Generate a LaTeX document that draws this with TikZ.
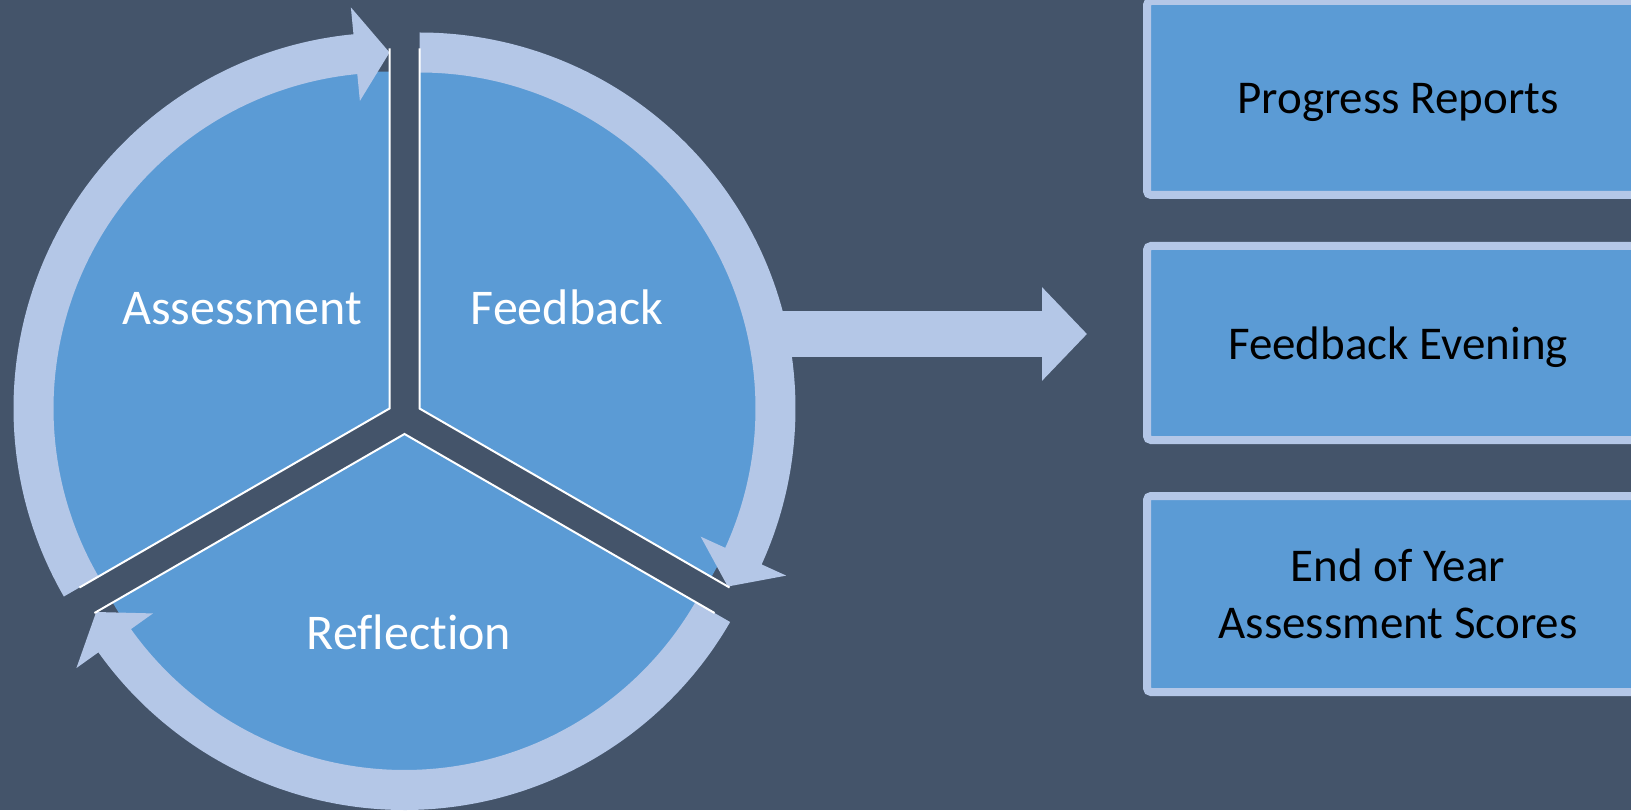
\documentclass[tikz,border=0pt]{standalone}
\usepackage{fontspec}
\setmainfont{Carlito}[Ligatures=NoCommon]
\usetikzlibrary{arrows.meta,calc}
\definecolor{bgslate}{HTML}{44546A}
\definecolor{segblue}{HTML}{5B9BD5}
\definecolor{ringblue}{HTML}{B4C7E7}

\begin{document}
\begin{tikzpicture}[x=0.5pt, y=0.5pt,
  segment/.style={fill=segblue},
  ringarrow/.style={fill=ringblue},
  edgeline/.style={draw=white, line width=1pt},
  cyclelabel/.style={text=white, anchor=base, font=\fontsize{25}{30}\selectfont},
  outbox/.style={draw=ringblue, line width=4pt, fill=segblue, rounded corners=2pt,
    minimum width=251pt, minimum height=97pt, align=center, text=black,
    font=\fontsize{23.5}{28.5}\selectfont},
  bigarrow/.style={draw=ringblue, line width=23pt, -{Triangle[length=22.5pt, width=45.5pt]}}]

% Background
\useasboundingbox (0,0) rectangle (1631,810);
\clip (0,0) rectangle (1631,810);
\fill[bgslate] (0,0) rectangle (1631,810);

% Centres of the segments
\coordinate (A) at (389.5,401.5);
\coordinate (F) at (419.5,401.5);
\coordinate (R) at (404.5,376);

% Arrow out of the cycle
\coordinate (fbout) at (760,476);
\coordinate (fbtip) at (1087,476);
\draw[bigarrow] (fbout) -- (fbtip);

% Assessment
\begin{scope}[shift={(A)}]
\fill[segment] (0,0) -- (90:337) arc[start angle=90, end angle=210, radius=337] -- cycle;
\fill[ringarrow] (210:376) arc[start angle=210, end angle=95.5, radius=376]
      -- (95.5:403) -- (90:356) -- (95.5:309) -- (95.5:336)
      arc[start angle=95.5, end angle=210, radius=336] -- cycle;
\draw[edgeline] (90:360) -- (0,0) -- (210:358);
\end{scope}

% Feedback
\begin{scope}[shift={(F)}]
\fill[segment] (0,0) -- (90:337) arc[start angle=90, end angle=-30, radius=337] -- cycle;
\fill[ringarrow] (90:376) arc[start angle=90, end angle=-24.5, radius=376]
      -- (-24.5:403) -- (-30:356) -- (-24.5:309) -- (-24.5:336)
      arc[start angle=-24.5, end angle=90, radius=336] -- cycle;
\draw[edgeline] (90:360) -- (0,0) -- (-30:358);
\end{scope}

% Reflection
\begin{scope}[shift={(R)}]
\fill[segment] (0,0) -- (-30:337) arc[start angle=-30, end angle=-150, radius=337] -- cycle;
\fill[ringarrow] (330:376) arc[start angle=330, end angle=215.5, radius=376]
      -- (215.5:403) -- (210:356) -- (215.5:309) -- (215.5:336)
      arc[start angle=215.5, end angle=330, radius=336] -- cycle;
\draw[edgeline] (-30:358) -- (0,0) -- (210:358);
\end{scope}

% Labels
\node[cyclelabel] (assess) at (242,486) {Assessment};
\node[cyclelabel] (feedb) at (567,486) {Feedback};
\node[cyclelabel] (reflect) at (409,161) {Reflection};

% Boxes
\node[outbox, text depth=0pt] (box1) at (1398,712) {Progress Reports};
\node[outbox, text depth=0pt] (box2) at (1398,467) {Feedback Evening};
\node[outbox, minimum height=98pt] (box3) at (1398,216) {End of Year\\Assessment Scores};

\end{tikzpicture}
\end{document}
